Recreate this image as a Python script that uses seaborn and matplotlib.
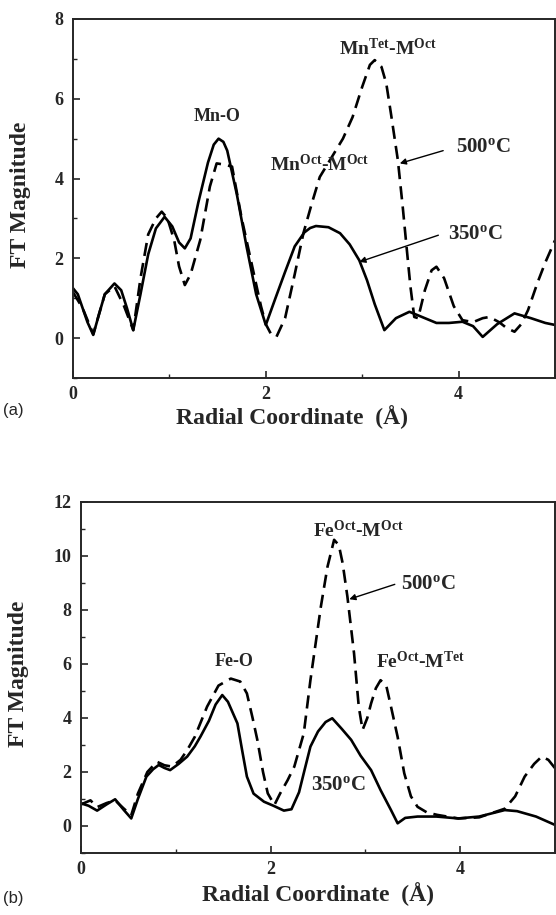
import matplotlib
matplotlib.use("Agg")
import matplotlib.pyplot as plt
import seaborn as sns
import pandas as pd
from matplotlib.ticker import MultipleLocator

# ---------------- data ----------------
# (a) Mn K-edge
mn350_r = [0, 0.05, 0.1, 0.15, 0.21, 0.27, 0.33, 0.43, 0.5, 0.56, 0.625, 0.7, 0.78, 0.86, 0.95,
           1.03, 1.1, 1.16, 1.22, 1.3, 1.4, 1.46, 1.51, 1.56, 1.6, 1.7, 1.8, 1.9, 2.0, 2.1, 2.2,
           2.3, 2.4, 2.46, 2.52, 2.65, 2.77, 2.87, 2.97, 3.05, 3.13, 3.23, 3.35, 3.49, 3.6, 3.77,
           3.9, 4.04, 4.15, 4.25, 4.4, 4.58, 4.75, 4.9, 5.0]
mn350_ft = [1.25, 1.1, 0.75, 0.4, 0.08, 0.6, 1.1, 1.37, 1.2, 0.75, 0.2, 1.1, 2.1, 2.75, 3.04,
            2.8, 2.4, 2.25, 2.5, 3.4, 4.4, 4.85, 5.0, 4.92, 4.7, 3.6, 2.3, 1.1, 0.33, 1.0, 1.66,
            2.3, 2.65, 2.76, 2.81, 2.78, 2.63, 2.35, 1.95, 1.45, 0.85, 0.2, 0.5, 0.66, 0.55, 0.38,
            0.38, 0.41, 0.3, 0.03, 0.35, 0.62, 0.5, 0.38, 0.33]

mn500_r = [0, 0.1, 0.21, 0.33, 0.43, 0.53, 0.625, 0.7, 0.78, 0.86, 0.92, 0.98, 1.05, 1.1, 1.16,
           1.22, 1.32, 1.42, 1.49, 1.57, 1.65, 1.75, 1.85, 1.95, 2.0, 2.05, 2.11, 2.2, 2.3, 2.39,
           2.48, 2.56, 2.7, 2.8, 2.9, 3.0, 3.08, 3.13, 3.2, 3.25, 3.3, 3.37, 3.42, 3.46, 3.5, 3.54,
           3.58, 3.65, 3.72, 3.77, 3.85, 3.95, 4.04, 4.15, 4.25, 4.32, 4.42, 4.5, 4.58, 4.65, 4.72,
           4.82, 4.9, 5.0]
mn500_ft = [1.15, 0.75, 0.1, 1.1, 1.3, 0.8, 0.2, 1.5, 2.6, 3.0, 3.17, 3.0, 2.45, 1.8, 1.33,
            1.6, 2.46, 3.8, 4.38, 4.35, 4.3, 3.0, 1.9, 0.8, 0.35, 0.12, 0.03, 0.5, 1.6, 2.63,
            3.4, 4.04, 4.6, 5.0, 5.54, 6.3, 6.85, 6.97, 6.8, 6.38, 5.6, 4.46, 3.3, 2.29, 1.3, 0.53,
            0.5, 1.2, 1.7, 1.79, 1.5, 0.8, 0.45, 0.4, 0.5, 0.53, 0.4, 0.25, 0.16, 0.35, 0.7,
            1.4, 1.9, 2.45]

# (b) Fe K-edge
fe350_r = [0, 0.08, 0.17, 0.27, 0.36, 0.45, 0.53, 0.6, 0.69, 0.76, 0.82, 0.88, 0.94, 1.03, 1.12,
           1.2, 1.26, 1.35, 1.42, 1.49, 1.55, 1.6, 1.65, 1.7, 1.75, 1.82, 1.93, 2.03, 2.14, 2.22,
           2.3, 2.36, 2.42, 2.5, 2.58, 2.65, 2.75, 2.85, 2.95, 3.06, 3.16, 3.27, 3.34, 3.42, 3.55,
           3.75, 3.98, 4.2, 4.47, 4.6, 4.8, 5.0]
fe350_ft = [0.84, 0.75, 0.57, 0.8, 0.99, 0.6, 0.28, 1.0, 1.83, 2.1, 2.26, 2.15, 2.07, 2.3, 2.57,
            2.95, 3.31, 3.9, 4.5, 4.85, 4.6, 4.2, 3.8, 2.8, 1.83, 1.2, 0.9, 0.75, 0.57, 0.62,
            1.25, 2.1, 2.94, 3.5, 3.85, 3.99, 3.6, 3.19, 2.6, 2.07, 1.33, 0.59, 0.1, 0.3, 0.35,
            0.35, 0.28, 0.35, 0.59, 0.55, 0.35, 0.04]

fe500_r = [0, 0.1, 0.17, 0.27, 0.36, 0.45, 0.53, 0.6, 0.7, 0.8, 0.88, 0.96, 1.05, 1.12, 1.2,
           1.33, 1.45, 1.58, 1.68, 1.75, 1.81, 1.86, 1.92, 1.97, 2.04, 2.1, 2.18, 2.25, 2.35, 2.42,
           2.53, 2.6, 2.67, 2.72, 2.76, 2.81, 2.88, 2.93, 2.97, 3.02, 3.06, 3.11, 3.16, 3.22, 3.27,
           3.34, 3.41, 3.48, 3.55, 3.65, 3.76, 3.98, 4.2, 4.47, 4.58, 4.68, 4.78, 4.86, 4.93, 5.0]
fe500_ft = [0.8, 0.95, 0.7, 0.85, 0.95, 0.65, 0.4, 1.2, 2.0, 2.38, 2.25, 2.2, 2.45, 2.81, 3.3,
            4.42, 5.2, 5.46, 5.35, 4.91, 4.0, 3.19, 2.0, 1.21, 0.78, 1.2, 1.7, 2.2, 3.43, 5.4,
            8.12, 9.6, 10.6, 10.4, 9.73, 8.5, 6.4, 4.42, 3.56, 4.0, 4.54, 5.1, 5.4, 5.2, 4.42,
            3.3, 1.95, 1.1, 0.71, 0.5, 0.41, 0.28, 0.32, 0.64, 1.1, 1.83, 2.3, 2.57, 2.45, 2.14]

x_ticks = [0, 2, 4]
y_ticks_a = [0, 2, 4, 6, 8]
y_ticks_b = [0, 2, 4, 6, 8, 10, 12]

# ---------------- style ----------------
sns.set_style("ticks")
plt.rcParams['font.family'] = ['Liberation Serif', 'DejaVu Serif']
plt.rcParams['font.weight'] = 'bold'
plt.rcParams['mathtext.fontset'] = 'custom'
plt.rcParams['mathtext.rm'] = 'Liberation Serif:bold'
plt.rcParams['mathtext.it'] = 'Liberation Serif:bold'
plt.rcParams['mathtext.bf'] = 'Liberation Serif:bold'
plt.rcParams['mathtext.default'] = 'rm'

fig = plt.figure(figsize=(5.56, 9.15), dpi=100)
ax1 = fig.add_axes([73/556, 1-378/915, 482/556, 359/915])
ax2 = fig.add_axes([81/556, 1-853/915, 474/556, 351/915])

DASH = (0, (5.0, 2.7))
LW = 1.9


def draw(ax, r1, f1, r2, f2, ylim, yticks, labx, laby, lab_ycoord):
    d1 = pd.DataFrame({"r": r1, "ft": f1})
    d2 = pd.DataFrame({"r": r2, "ft": f2})
    sns.lineplot(data=d1, x="r", y="ft", ax=ax, color="black", linewidth=LW, sort=True)
    sns.lineplot(data=d2, x="r", y="ft", ax=ax, color="black", linewidth=LW,
                 linestyle=DASH, sort=True)
    ax.set_xlim(0, 5)
    ax.set_ylim(*ylim)
    ax.set_xticks(x_ticks)
    ax.set_yticks(yticks)
    ax.xaxis.set_minor_locator(MultipleLocator(1))
    ax.yaxis.set_minor_locator(MultipleLocator(1))
    ax.tick_params(which='both', direction='in', top=False, right=False, labelsize=13)
    ax.tick_params(which='major', length=5, width=1.2, pad=7)
    ax.tick_params(axis='x', which='major', pad=6)
    ax.tick_params(which='minor', length=3, width=1.0)
    for t in ax.get_xticklabels() + ax.get_yticklabels():
        t.set_fontweight('bold')
    for s in ax.spines.values():
        s.set_visible(True)
        s.set_linewidth(1.4)
    ax.set_xlabel("Radial Coordinate  (Å)", fontsize=17, fontweight='bold')
    ax.set_ylabel("FT Magnitude", fontsize=17, fontweight='bold')
    ax.xaxis.set_label_coords(labx, lab_ycoord)
    ax.yaxis.set_label_coords(laby, 0.51)


def arrow(ax, start, end):
    ax.annotate("", xy=end, xytext=start,
                arrowprops=dict(arrowstyle='-|>', color='black', lw=1.0, mutation_scale=9,
                                shrinkA=0, shrinkB=0))


draw(ax1, mn350_r, mn350_ft, mn500_r, mn500_ft, (-1, 8), y_ticks_a, 0.455, -0.087, -0.076)
draw(ax2, fe350_r, fe350_ft, fe500_r, fe500_ft, (-1, 12), y_ticks_b, 0.5, -0.11, -0.082)

# annotations (a)
ax1.text(1.49, 5.55, "Mn-O", ha='center', va='center', fontsize=13, fontweight='bold')
ax1.text(3.27, 7.25, "Mn$^{Tet}$-M$^{Oct}$", ha='center', va='center', fontsize=14, fontweight='bold')
ax1.text(2.56, 4.35, "Mn$^{Oct}$-M$^{Oct}$", ha='center', va='center', fontsize=14, fontweight='bold')
ax1.text(4.26, 4.8, "500$^{o}$C", ha='center', va='center', fontsize=15, fontweight='bold')
arrow(ax1, (3.84, 4.7), (3.39, 4.38))
ax1.text(4.17, 2.6, "350$^{o}$C", ha='center', va='center', fontsize=15, fontweight='bold')
arrow(ax1, (3.79, 2.58), (2.97, 1.91))

# annotations (b)
ax2.text(1.61, 6.1, "Fe-O", ha='center', va='center', fontsize=13, fontweight='bold')
ax2.text(2.92, 10.95, "Fe$^{Oct}$-M$^{Oct}$", ha='center', va='center', fontsize=14, fontweight='bold')
ax2.text(3.58, 6.1, "Fe$^{Oct}$-M$^{Tet}$", ha='center', va='center', fontsize=14, fontweight='bold')
ax2.text(3.66, 8.95, "500$^{o}$C", ha='center', va='center', fontsize=15, fontweight='bold')
arrow(ax2, (3.31, 8.95), (2.83, 8.4))
ax2.text(2.71, 1.5, "350$^{o}$C", ha='center', va='center', fontsize=15, fontweight='bold')

# panel letters
fig.text(3/556, 1-410/915, "(a)", family=['Liberation Sans', 'DejaVu Sans'],
         fontweight='normal', fontsize=12, va='center', ha='left')
fig.text(3/556, 1-899/915, "(b)", family=['Liberation Sans', 'DejaVu Sans'],
         fontweight='normal', fontsize=12, va='center', ha='left')

fig.savefig("out.png", dpi=100)
